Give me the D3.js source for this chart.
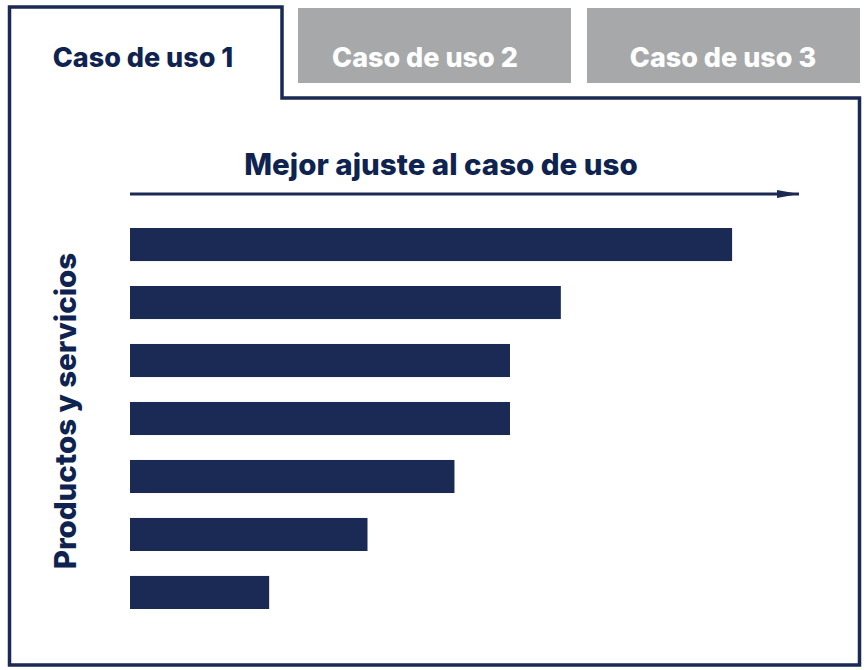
<!DOCTYPE html>
<html>
<head>
<meta charset="utf-8">
<script src="https://cdn.jsdelivr.net/npm/d3@7"></script>
<style>
  body { margin: 0; background: #fff; }
  text { font-family: Inter, "Open Sans", sans-serif; font-weight: 800; }
</style>
</head>
<body>
<div id="chart"></div>
<script>
// data
const tabs = ["Caso de uso 1", "Caso de uso 2", "Caso de uso 3"];
const tabCenters = [143, 425, 723];
const products = ["P1", "P2", "P3", "P4", "P5", "P6", "P7"];
const fitScores = [90, 64.4, 56.8, 56.8, 48.5, 35.5, 20.8];

const title = "Mejor ajuste al caso de uso";
const yLabel = "Productos y servicios";

const navy = "#1a2a54";
const gray = "#a7a8aa";

const width = 868, height = 670;

const svg = d3.select("#chart").append("svg")
    .attr("width", width)
    .attr("height", height);

// arrow marker
svg.append("defs").append("marker")
    .attr("id", "arrow")
    .attr("viewBox", "0 0 22 8")
    .attr("refX", 22)
    .attr("refY", 4)
    .attr("markerWidth", 22)
    .attr("markerHeight", 8)
    .attr("markerUnits", "userSpaceOnUse")
    .attr("orient", "auto")
    .append("path")
    .attr("d", "M0,0 L22,4 L0,8 Z")
    .attr("fill", navy);

// inactive tabs
const tabX = d3.scaleOrdinal().domain(tabs).range([10, 298, 587]);
const tabW = 273;

svg.selectAll(".tab-bg")
    .data(tabs.slice(1))
    .enter()
    .append("rect")
    .attr("class", "tab-bg")
    .attr("x", d => tabX(d))
    .attr("y", 8)
    .attr("width", tabW)
    .attr("height", 75)
    .attr("fill", gray);

// frame: active tab merged into main panel
svg.append("path")
    .attr("d", "M9.5,665 L9.5,7 L282,7 L282,98 L859.5,98 L859.5,665 Z")
    .attr("fill", "none")
    .attr("stroke", navy)
    .attr("stroke-width", 3.5);

svg.selectAll(".tab-label")
    .data(tabs)
    .enter()
    .append("text")
    .attr("class", "tab-label")
    .attr("x", (d, i) => tabCenters[i])
    .attr("y", 67)
    .attr("text-anchor", "middle")
    .attr("font-size", 27)
    .attr("letter-spacing", 0)
    .attr("fill", (d, i) => i == 0 ? "#0f2350" : "#fff")
    .text(d => d);

// scales
const x = d3.scaleLinear()
    .domain([0, 100])
    .range([130, 799]);

const y = d3.scaleBand()
    .domain(products)
    .range([228, 609])
    .paddingInner(0.43)
    .paddingOuter(0);

// title + arrow
svg.append("text")
    .attr("x", 441)
    .attr("y", 175)
    .attr("text-anchor", "middle")
    .attr("font-size", 29.5)
    .attr("letter-spacing", 0)
    .attr("fill", "#0f2350")
    .text(title);

svg.append("line")
    .attr("x1", x(0))
    .attr("x2", x(100))
    .attr("y1", 194)
    .attr("y2", 194)
    .attr("stroke", navy)
    .attr("stroke-width", 3)
    .attr("marker-end", "url(#arrow)");

// bars
svg.selectAll(".bar")
    .data(fitScores)
    .enter()
    .append("rect")
    .attr("class", "bar")
    .attr("x", x(0))
    .attr("y", (d, i) => y(products[i]))
    .attr("width", d => x(d) - x(0))
    .attr("height", y.bandwidth())
    .attr("fill", navy);

// y label
svg.append("text")
    .attr("transform", "translate(76,411) rotate(-90)")
    .attr("text-anchor", "middle")
    .attr("font-size", 29.5)
    .attr("letter-spacing", 0)
    .attr("fill", "#0f2350")
    .text(yLabel);
</script>
</body>
</html>
